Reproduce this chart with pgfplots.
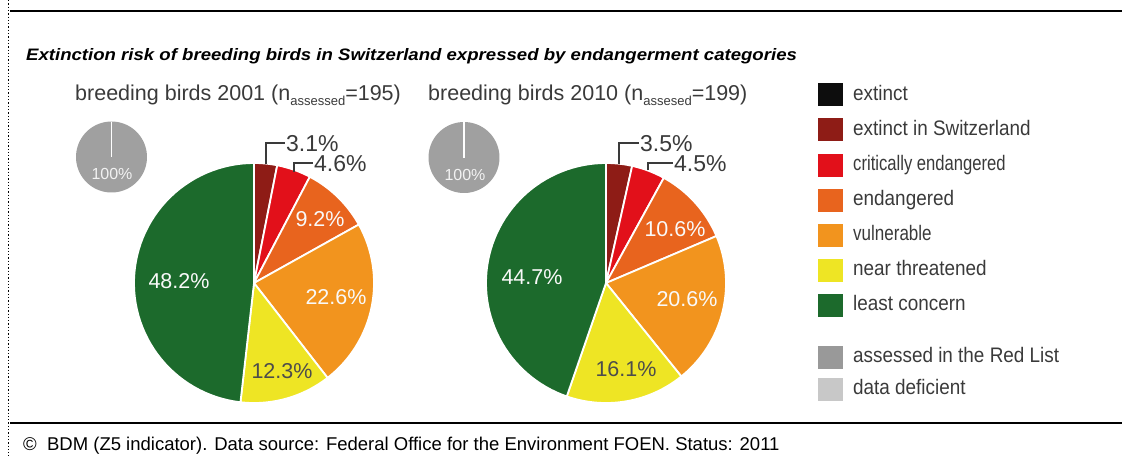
\documentclass[border=0pt]{standalone}
\usepackage{fontspec}
\setmainfont{Liberation Sans}
\newfontfamily\narrow[FakeStretch=0.9]{Liberation Sans}
\newfontfamily\widesans[FakeStretch=1.12]{Liberation Sans}
\usepackage{pgfplots}
\pgfplotsset{compat=1.18}
\definecolor{cEX}{HTML}{0D0D0D}
\definecolor{cRE}{HTML}{8E1C16}
\definecolor{cCR}{HTML}{E2101A}
\definecolor{cEN}{HTML}{E8641E}
\definecolor{cVU}{HTML}{F2941E}
\definecolor{cNT}{HTML}{EEE524}
\definecolor{cLC}{HTML}{1C6A2C}
\definecolor{cAS}{HTML}{999999}
\definecolor{cDD}{HTML}{C8C8C8}
\definecolor{cSM}{HTML}{A0A0A0}
\definecolor{txt}{HTML}{3A3A3A}
\newcommand\fs[1]{\fontsize{#1}{#1}\selectfont}
% slice: cx, cy, r, start %, end %, colour
\newcommand\slice[6]{\addplot[fill=#6, draw=white, line width=1.8pt, line join=round, domain=#4:#5, samples=60] ({#1+#3*sin(3.6*x)},{#2-#3*cos(3.6*x)}) -- (axis cs:#1,#2) -- cycle;}
\newcommand\legkey[2]{\addplot[fill=#1, draw=none] coordinates {(818,#2-11.5) (843,#2-11.5) (843,#2+11.5) (818,#2+11.5)} -- cycle;}
\begin{document}
\begin{tikzpicture}
\begin{axis}[scale only axis, width=1122pt, height=456pt,
  xmin=0, xmax=1122, ymin=0, ymax=456, y dir=reverse,
  hide axis, clip=false]
% frame
\addplot[black, line width=2.5pt] coordinates {(10,11) (1122,11)};
\addplot[black, line width=2.5pt] coordinates {(10,423) (1122,423)};
\addplot[black, line width=1.3pt, dotted] coordinates {(8.5,0) (8.5,456)};
% titles
\node[anchor=base west, font=\widesans\fs{16.6}\bfseries\itshape, inner sep=0pt] at (axis cs:26,60) {Extinction risk of breeding birds in Switzerland expressed by endangerment categories};
\node[anchor=base west, font=\fs{21.5}, text=txt, inner sep=0pt] at (axis cs:75,100) {breeding birds 2001 (n\raisebox{-5pt}{\fs{13}assessed}=195)};
\node[anchor=base west, font=\fs{21.5}, text=txt, inner sep=0pt] at (axis cs:428,100) {breeding birds 2010 (n\raisebox{-5pt}{\fs{13}assesed}=199)};
% pie 2001: 3.1, 4.6, 9.2, 22.6, 12.3, 48.2
\slice{254}{283}{120}{0}{3.1}{cRE}
\slice{254}{283}{120}{3.1}{7.7}{cCR}
\slice{254}{283}{120}{7.7}{16.9}{cEN}
\slice{254}{283}{120}{16.9}{39.5}{cVU}
\slice{254}{283}{120}{39.5}{51.8}{cNT}
\slice{254}{283}{120}{51.8}{100}{cLC}
% pie 2010: 3.5, 4.5, 10.6, 20.6, 16.1, 44.7
\slice{606}{283}{120}{0}{3.5}{cRE}
\slice{606}{283}{120}{3.5}{8.0}{cCR}
\slice{606}{283}{120}{8.0}{18.6}{cEN}
\slice{606}{283}{120}{18.6}{39.2}{cVU}
\slice{606}{283}{120}{39.2}{55.3}{cNT}
\slice{606}{283}{120}{55.3}{100}{cLC}
% small 100% pies
\addplot[fill=cSM, draw=none, domain=0:100, samples=80] ({111.5+35.5*sin(3.6*x)},{157-35.5*cos(3.6*x)}) -- cycle;
\addplot[white, line width=1.6pt] coordinates {(111.5,121.5) (111.5,157)};
\node[font=\fs{16}, text=white!90!gray] at (axis cs:112,174) {100\%};
\addplot[fill=cSM, draw=none, domain=0:100, samples=80] ({464+35.5*sin(3.6*x)},{157.5-35.5*cos(3.6*x)}) -- cycle;
\addplot[white, line width=1.6pt] coordinates {(464,122) (464,157.5)};
\node[font=\fs{16}, text=white!90!gray] at (axis cs:465,175) {100\%};
% leader lines and outside labels
\addplot[txt, line width=1.2pt] coordinates {(266,164) (266,143) (285,143)};
\node[anchor=west, font=\fs{23}, text=txt, inner sep=1pt] at (axis cs:285,143.5) {3.1\%};
\addplot[txt, line width=1.2pt] coordinates {(294,172) (294,163) (313,163)};
\node[anchor=west, font=\fs{23}, text=txt, inner sep=1pt] at (axis cs:313,163.5) {4.6\%};
\addplot[txt, line width=1.2pt] coordinates {(619,164) (619,143) (639,143)};
\node[anchor=west, font=\fs{23}, text=txt, inner sep=1pt] at (axis cs:639,143.5) {3.5\%};
\addplot[txt, line width=1.2pt] coordinates {(648,170) (648,163) (673,163)};
\node[anchor=west, font=\fs{23}, text=txt, inner sep=1pt] at (axis cs:673,163.5) {4.5\%};
% inside labels
\node[font=\fs{21.5}, text=white!95!gray] at (axis cs:320,219) {9.2\%};
\node[font=\fs{21.5}, text=white!95!gray] at (axis cs:336,297) {22.6\%};
\node[font=\fs{21.5}, text=black!70] at (axis cs:282,371) {12.3\%};
\node[font=\fs{21.5}, text=white!95!gray] at (axis cs:179,281) {48.2\%};
\node[font=\fs{21.5}, text=white!95!gray] at (axis cs:675,229) {10.6\%};
\node[font=\fs{21.5}, text=white!95!gray] at (axis cs:687,299) {20.6\%};
\node[font=\fs{21.5}, text=black!70] at (axis cs:626,369) {16.1\%};
\node[font=\fs{21.5}, text=white!95!gray] at (axis cs:532,277) {44.7\%};
% legend
\legkey{cEX}{94.7}
\legkey{cRE}{129.7}
\legkey{cCR}{165}
\legkey{cEN}{200}
\legkey{cVU}{235}
\legkey{cNT}{270}
\legkey{cLC}{305}
\legkey{cAS}{357}
\legkey{cDD}{389}
\node[anchor=base west, font=\narrow\fs{21}, text=txt, inner sep=0pt] at (axis cs:853,100.2) {extinct};
\node[anchor=base west, font=\narrow\fs{21}, text=txt, inner sep=0pt] at (axis cs:853,135.2) {extinct in Switzerland};
\node[anchor=base west, font=\narrow\fs{21}, text=txt, inner sep=0pt] at (axis cs:853,170.5) {\scalebox{0.88}[1]{critically endangered}};
\node[anchor=base west, font=\narrow\fs{21}, text=txt, inner sep=0pt] at (axis cs:853,205.5) {endangered};
\node[anchor=base west, font=\narrow\fs{21}, text=txt, inner sep=0pt] at (axis cs:853,240.5) {\scalebox{0.9}[1]{vulnerable}};
\node[anchor=base west, font=\narrow\fs{21}, text=txt, inner sep=0pt] at (axis cs:853,275.5) {near threatened};
\node[anchor=base west, font=\narrow\fs{21}, text=txt, inner sep=0pt] at (axis cs:853,310.5) {least concern};
\node[anchor=base west, font=\narrow\fs{21}, text=txt, inner sep=0pt] at (axis cs:853,362.5) {assessed in the Red List};
\node[anchor=base west, font=\narrow\fs{21}, text=txt, inner sep=0pt] at (axis cs:853,394.5) {data deficient};
% footer
\node[anchor=base west, font=\fs{18.5}, inner sep=0pt] at (axis cs:23,450) {\textcopyright\ \ BDM (Z5 indicator). Data source: Federal Office for the Environment FOEN. Status: 2011};
\coordinate (BL) at (axis cs:0,456);
\coordinate (TR) at (axis cs:1122,0);
\end{axis}
\pgfresetboundingbox
\path[use as bounding box] (BL) rectangle (TR);
\end{tikzpicture}
\end{document}
